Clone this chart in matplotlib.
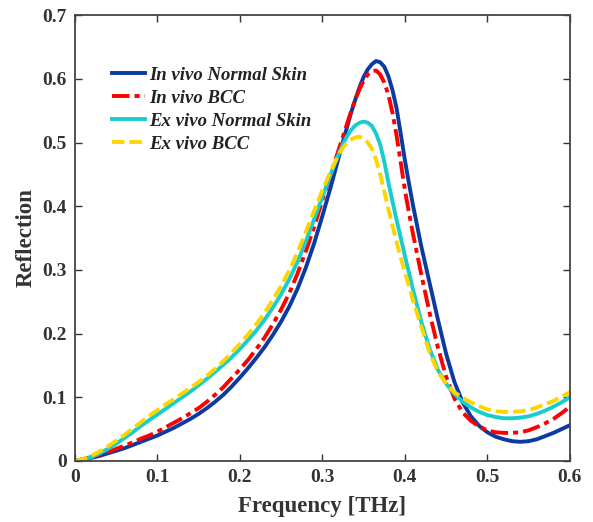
import matplotlib

matplotlib.use('Agg')
import matplotlib.pyplot as plt

plt.rcParams['font.family'] = ['Liberation Serif', 'DejaVu Serif']
plt.rcParams['font.weight'] = 'bold'

# frequency grid [THz]: coarse on the flanks, finer around the peaks
freq = ([i / 100 for i in range(0, 33)]
        + [i / 1000 for i in range(325, 410, 5)]
        + [i / 100 for i in range(41, 61)])

# values (same order as freq)
in_vivo_normal = [
    0.000, 0.002, 0.005, 0.008, 0.012, 0.016, 0.020, 0.025, 0.030, 0.035,
    0.040, 0.046, 0.052, 0.059, 0.066, 0.074, 0.083, 0.093, 0.104, 0.117,
    0.131, 0.146, 0.162, 0.179, 0.198, 0.219, 0.243, 0.271, 0.304, 0.342,
    0.385, 0.430, 0.478,
    0.502, 0.525, 0.548, 0.568, 0.587, 0.603, 0.615, 0.623, 0.628, 0.626,
    0.619, 0.604, 0.582, 0.553, 0.513, 0.472, 0.435,
    0.400, 0.336, 0.279, 0.222, 0.168, 0.124, 0.092, 0.070, 0.055, 0.045,
    0.038, 0.034, 0.031, 0.030, 0.031, 0.034, 0.039, 0.044, 0.050, 0.056,
]
in_vivo_bcc = [
    0.000, 0.003, 0.006, 0.010, 0.014, 0.019, 0.024, 0.029, 0.035, 0.040,
    0.046, 0.053, 0.060, 0.067, 0.075, 0.083, 0.093, 0.104, 0.116, 0.130,
    0.144, 0.159, 0.176, 0.194, 0.215, 0.238, 0.264, 0.295, 0.330, 0.368,
    0.410, 0.450, 0.490,
    0.510, 0.530, 0.550, 0.568, 0.584, 0.597, 0.607, 0.612, 0.613, 0.607,
    0.594, 0.575, 0.546, 0.510, 0.468, 0.425, 0.389,
    0.355, 0.292, 0.232, 0.178, 0.132, 0.098, 0.076, 0.063, 0.054, 0.048,
    0.045, 0.044, 0.044, 0.045, 0.048, 0.053, 0.059, 0.066, 0.075, 0.085,
]
ex_vivo_normal = [
    0.000, 0.002, 0.006, 0.012, 0.019, 0.027, 0.036, 0.045, 0.055, 0.064,
    0.073, 0.082, 0.091, 0.100, 0.109, 0.119, 0.129, 0.140, 0.151, 0.163,
    0.176, 0.190, 0.205, 0.222, 0.241, 0.262, 0.286, 0.313, 0.345, 0.380,
    0.415, 0.450, 0.483,
    0.498, 0.510, 0.520, 0.527, 0.531, 0.533, 0.531, 0.526, 0.514, 0.497,
    0.470, 0.437, 0.407, 0.378, 0.350, 0.322, 0.295,
    0.268, 0.218, 0.176, 0.143, 0.121, 0.105, 0.093, 0.084, 0.077, 0.072,
    0.069, 0.067, 0.067, 0.068, 0.070, 0.074, 0.079, 0.085, 0.092, 0.100,
]
ex_vivo_bcc = [
    0.000, 0.003, 0.008, 0.015, 0.023, 0.032, 0.041, 0.051, 0.061, 0.071,
    0.080, 0.089, 0.097, 0.106, 0.115, 0.124, 0.134, 0.145, 0.157, 0.170,
    0.184, 0.199, 0.215, 0.233, 0.253, 0.275, 0.300, 0.328, 0.360, 0.393,
    0.425, 0.455, 0.482,
    0.492, 0.500, 0.505, 0.508, 0.509, 0.506, 0.500, 0.490, 0.473, 0.450,
    0.423, 0.395, 0.369, 0.343, 0.319, 0.296, 0.274,
    0.252, 0.210, 0.170, 0.140, 0.121, 0.108, 0.099, 0.092, 0.086, 0.081,
    0.078, 0.077, 0.077, 0.078, 0.080, 0.084, 0.089, 0.094, 0.101, 0.108,
]

xticks = [0, 0.1, 0.2, 0.3, 0.4, 0.5, 0.6]
xtick_labels = ['0', '0.1', '0.2', '0.3', '0.4', '0.5', '0.6']
yticks = [0, 0.1, 0.2, 0.3, 0.4, 0.5, 0.6, 0.7]
ytick_labels = ['0', '0.1', '0.2', '0.3', '0.4', '0.5', '0.6', '0.7']

fig = plt.figure(figsize=(5.93, 5.22), dpi=100)
ax = fig.add_axes([0.1265, 0.117, 0.8345, 0.854])

lw = 2.8
ax.plot(freq, in_vivo_normal, color='#0b3aa0', lw=lw, ls='-',
        label='In vivo Normal Skin')
ax.plot(freq, in_vivo_bcc, color='#ff0000', lw=lw, ls=(0, (4.5, 1.3, 1.3, 1.3)),
        label='In vivo BCC')
ax.plot(freq, ex_vivo_normal, color='#19cdcd', lw=lw, ls='-',
        label='Ex vivo Normal Skin')
ax.plot(freq, ex_vivo_bcc, color='#ffd500', lw=lw, ls=(0, (3.2, 1.3)),
        label='Ex vivo BCC')

ax.set_xlim(0, 0.6)
ax.set_ylim(0, 0.7)
ax.set_xticks(xticks)
ax.set_xticklabels(xtick_labels)
ax.set_yticks(yticks)
ax.set_yticklabels(ytick_labels)
ax.tick_params(direction='in', top=True, right=True, length=5, width=1,
               labelsize=14, color='#333333', pad=6)
for lab in ax.get_xticklabels() + ax.get_yticklabels():
    lab.set_fontweight('bold')
    lab.set_color('#333333')
for sp in ax.spines.values():
    sp.set_linewidth(1.3)
    sp.set_color('#444444')

ax.set_xlabel('Frequency [THz]', fontsize=16.5, fontweight='bold',
              color='#333333', labelpad=7)
ax.set_ylabel('Reflection', fontsize=16.5, fontweight='bold',
              color='#333333', labelpad=4)

leg = ax.legend(loc='upper left', bbox_to_anchor=(0.075, 0.885), frameon=False,
                borderpad=0, borderaxespad=0, handlelength=1.75,
                handletextpad=0.2, labelspacing=0.32,
                prop={'family': 'Liberation Serif', 'style': 'italic',
                      'weight': 'bold', 'size': 13.5})
for t in leg.get_texts():
    t.set_color('#222222')

fig.savefig('out.png', dpi=100)
